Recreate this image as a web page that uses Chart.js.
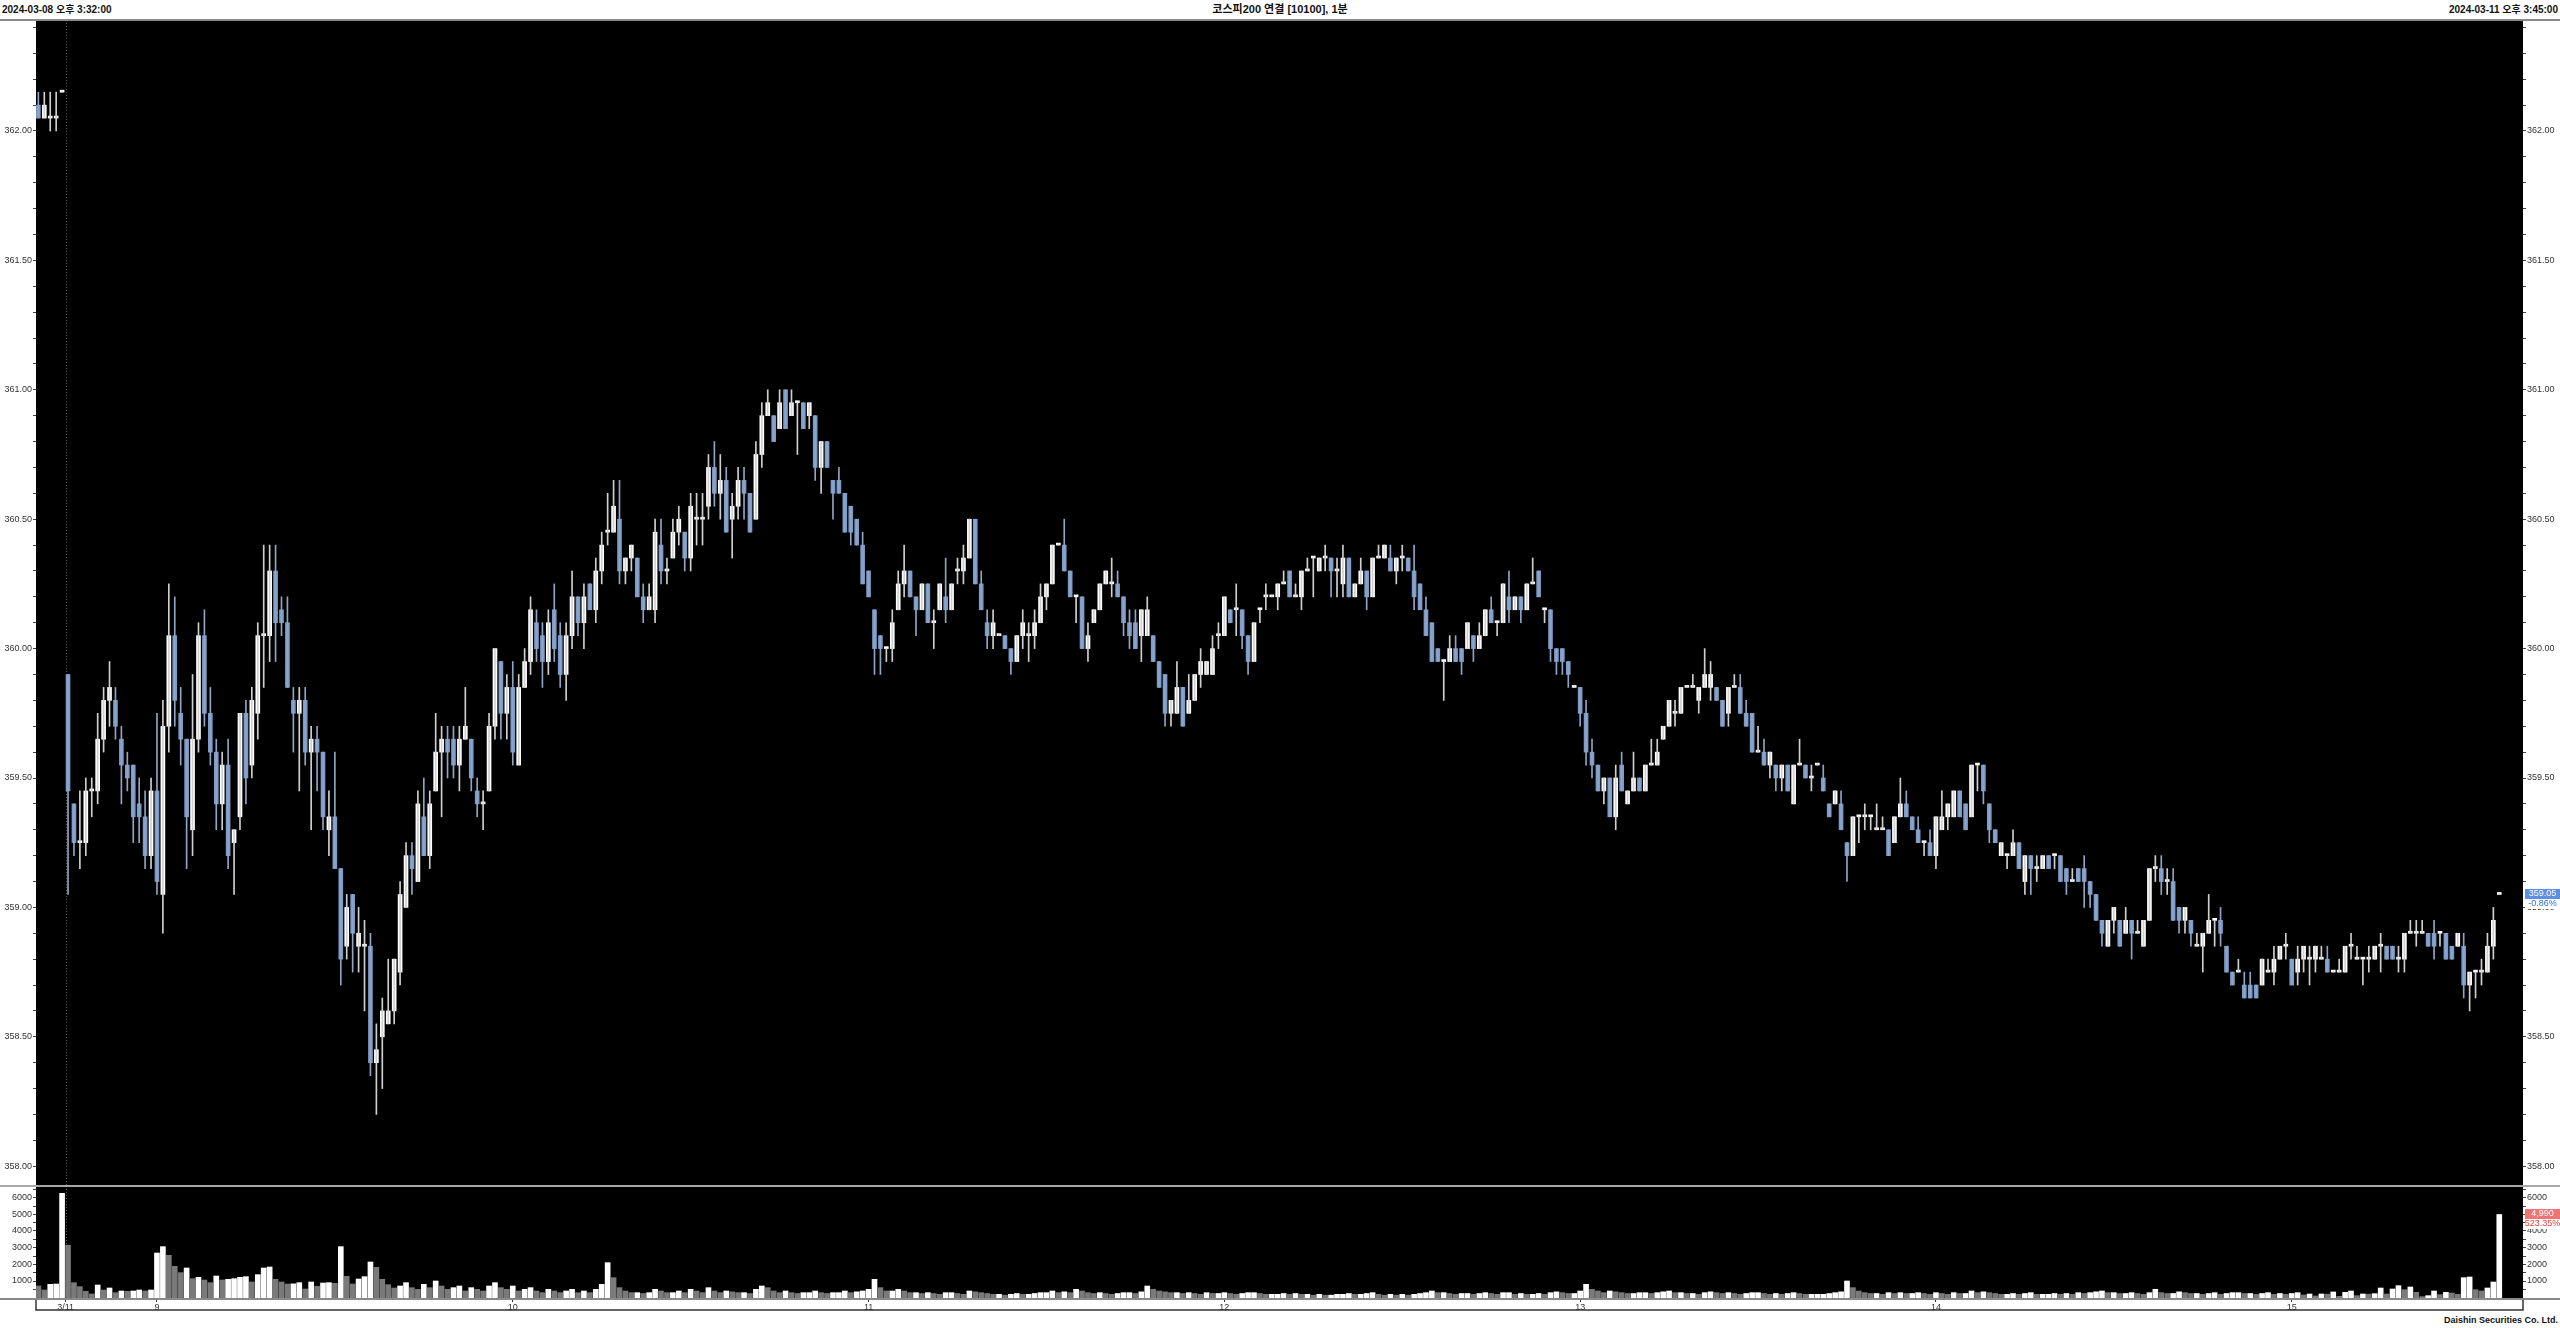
<!DOCTYPE html>
<html lang="ko">
<head>
<meta charset="utf-8">
<title>코스피200 연결 1분</title>
<script src="https://cdn.jsdelivr.net/npm/chart.js@4.4.1/dist/chart.umd.min.js"></script>
<style>
  html, body { margin: 0; padding: 0; background: #fff; }
  body { width: 2560px; height: 1328px; position: relative; overflow: hidden;
         font-family: "Liberation Sans", "Noto Sans CJK KR", sans-serif; }
  .hd { position: absolute; top: 4px; font-size: 10px; font-weight: bold; color: #111;
        white-space: nowrap; line-height: 12px; }
  #hdLeft { left: 2px; }
  #hdMid { left: 0; width: 2560px; text-align: center; font-size: 11px; top: 3px; }
  #hdRight { right: 2px; }
  .rule { position: absolute; left: 0; width: 2560px; height: 2px; background: #8a8a8a; z-index: 2; }
  #priceCv { position: absolute; left: 0; top: 20px; }
  #volCv { position: absolute; left: 0; top: 1186px; }
  #foot { position: absolute; right: 2px; top: 1315px; font-size: 9px; font-weight: bold;
          color: #111; white-space: nowrap; }
</style>
</head>
<body>
<div class="hd" id="hdLeft">2024-03-08 오후 3:32:00</div>
<div class="hd" id="hdMid">코스피200 연결 [10100], 1분</div>
<div class="hd" id="hdRight">2024-03-11 오후 3:45:00</div>
<div class="rule" style="top:19px"></div>
<canvas id="priceCv" width="2560" height="1166"></canvas>
<div class="rule" style="top:1185px;background:#a8a8a8"></div>
<canvas id="volCv" width="2560" height="125"></canvas>
<div class="rule" style="top:1298px;background:#8a8a8a"></div>
<div id="foot">Daishin Securities Co. Ltd.</div>

<script>
// 1-minute bars: 5 bars of 3/8 close, then 3/11 from 08:45 to the close
const opens = [
  362.10, 362.05, 362.05, 362.05, 362.15, 359.90, 359.40, 359.25, 359.25, 359.45,
  359.45, 359.65, 359.80, 359.80, 359.65, 359.55, 359.55, 359.40, 359.35, 359.20,
  359.45, 359.05, 359.70, 360.05, 359.75, 359.65, 359.30, 359.65, 360.05, 359.75,
  359.60, 359.40, 359.55, 359.25, 359.35, 359.75, 359.55, 359.75, 360.05, 360.05,
  360.30, 360.15, 360.10, 359.80, 359.75, 359.80, 359.60, 359.65, 359.60, 359.30,
  359.35, 359.15, 358.85, 359.05, 358.85, 358.85, 358.85, 358.40, 358.50, 358.55,
  358.60, 358.75, 359.00, 359.20, 359.10, 359.35, 359.20, 359.45, 359.60, 359.65,
  359.65, 359.55, 359.65, 359.65, 359.45, 359.40, 359.45, 359.70, 359.95, 359.75,
  359.85, 359.55, 359.85, 359.95, 360.10, 360.05, 359.95, 360.15, 360.05, 359.90,
  360.05, 360.20, 360.10, 360.25, 360.15, 360.30, 360.45, 360.45, 360.50, 360.30,
  360.35, 360.35, 360.20, 360.15, 360.15, 360.40, 360.30, 360.35, 360.45, 360.45,
  360.35, 360.50, 360.50, 360.55, 360.70, 360.60, 360.65, 360.50, 360.55, 360.65,
  360.60, 360.50, 360.75, 360.90, 360.90, 360.85, 361.00, 360.90, 360.95, 360.95,
  360.90, 360.90, 360.70, 360.80, 360.65, 360.65, 360.60, 360.55, 360.50, 360.40,
  360.30, 360.15, 360.05, 360.00, 360.00, 360.15, 360.25, 360.30, 360.20, 360.15,
  360.25, 360.10, 360.15, 360.20, 360.15, 360.30, 360.30, 360.35, 360.50, 360.25,
  360.10, 360.05, 360.05, 360.05, 360.00, 359.95, 360.05, 360.05, 360.05, 360.10,
  360.20, 360.25, 360.40, 360.40, 360.30, 360.20, 360.20, 360.00, 360.10, 360.15,
  360.25, 360.25, 360.25, 360.20, 360.10, 360.10, 360.05, 360.05, 360.05, 359.95,
  359.90, 359.75, 359.75, 359.85, 359.75, 359.80, 359.90, 359.90, 359.90, 360.05,
  360.05, 360.15, 360.15, 360.15, 360.05, 359.95, 360.15, 360.20, 360.20, 360.20,
  360.25, 360.30, 360.20, 360.20, 360.30, 360.35, 360.30, 360.35, 360.35, 360.30,
  360.25, 360.35, 360.20, 360.25, 360.30, 360.20, 360.35, 360.35, 360.35, 360.30,
  360.35, 360.35, 360.30, 360.25, 360.15, 360.10, 360.00, 359.95, 359.95, 360.00,
  360.00, 360.00, 360.05, 360.00, 360.05, 360.15, 360.10, 360.10, 360.20, 360.15,
  360.20, 360.15, 360.25, 360.30, 360.15, 360.15, 360.00, 360.00, 359.95, 359.85,
  359.85, 359.75, 359.60, 359.55, 359.45, 359.50, 359.35, 359.55, 359.40, 359.45,
  359.50, 359.45, 359.55, 359.55, 359.65, 359.70, 359.75, 359.75, 359.85, 359.85,
  359.80, 359.85, 359.85, 359.85, 359.80, 359.75, 359.85, 359.85, 359.75, 359.75,
  359.60, 359.60, 359.55, 359.55, 359.50, 359.55, 359.40, 359.55, 359.55, 359.50,
  359.55, 359.50, 359.40, 359.40, 359.40, 359.25, 359.20, 359.35, 359.35, 359.35,
  359.30, 359.30, 359.30, 359.25, 359.35, 359.40, 359.35, 359.30, 359.25, 359.25,
  359.20, 359.30, 359.35, 359.35, 359.45, 359.40, 359.35, 359.55, 359.55, 359.40,
  359.30, 359.20, 359.20, 359.20, 359.25, 359.10, 359.20, 359.15, 359.15, 359.20,
  359.20, 359.20, 359.15, 359.10, 359.15, 359.15, 359.10, 359.05, 358.95, 358.85,
  358.95, 358.95, 358.90, 358.95, 358.90, 358.85, 358.95, 359.15, 359.15, 359.10,
  359.10, 359.00, 358.95, 358.95, 358.85, 358.85, 358.90, 358.95, 358.95, 358.85,
  358.75, 358.75, 358.70, 358.70, 358.70, 358.70, 358.75, 358.75, 358.80, 358.85,
  358.80, 358.75, 358.80, 358.80, 358.80, 358.80, 358.80, 358.75, 358.75, 358.75,
  358.85, 358.80, 358.80, 358.80, 358.80, 358.85, 358.85, 358.85, 358.80, 358.80,
  358.90, 358.90, 358.90, 358.90, 358.90, 358.90, 358.90, 358.85, 358.85, 358.85,
  358.70, 358.75, 358.75, 358.75, 358.85, 359.05
];
const highs = [
  362.15, 362.15, 362.15, 362.15, 362.15, 359.90, 359.40, 359.45, 359.50, 359.50,
  359.75, 359.85, 359.95, 359.85, 359.70, 359.60, 359.55, 359.50, 359.45, 359.50,
  359.75, 359.80, 360.25, 360.20, 359.85, 359.65, 359.90, 360.10, 360.15, 359.85,
  359.65, 359.60, 359.65, 359.30, 359.75, 359.80, 359.85, 360.10, 360.40, 360.40,
  360.40, 360.20, 360.20, 359.85, 359.85, 359.85, 359.70, 359.70, 359.60, 359.45,
  359.60, 359.15, 359.05, 359.05, 359.00, 358.95, 358.90, 358.55, 358.65, 358.80,
  358.80, 359.10, 359.25, 359.25, 359.45, 359.50, 359.45, 359.75, 359.70, 359.70,
  359.70, 359.70, 359.85, 359.65, 359.50, 359.45, 359.75, 360.00, 359.95, 359.90,
  359.95, 359.90, 360.00, 360.20, 360.15, 360.10, 360.15, 360.25, 360.10, 360.10,
  360.30, 360.20, 360.25, 360.25, 360.35, 360.45, 360.60, 360.65, 360.65, 360.35,
  360.40, 360.35, 360.25, 360.25, 360.50, 360.50, 360.35, 360.50, 360.55, 360.45,
  360.60, 360.60, 360.60, 360.75, 360.80, 360.75, 360.70, 360.60, 360.70, 360.70,
  360.60, 360.80, 360.95, 361.00, 360.90, 361.00, 361.00, 361.00, 360.95, 360.95,
  360.95, 360.90, 360.80, 360.80, 360.65, 360.70, 360.60, 360.55, 360.50, 360.45,
  360.30, 360.15, 360.05, 360.00, 360.15, 360.30, 360.40, 360.30, 360.20, 360.25,
  360.25, 360.15, 360.25, 360.35, 360.25, 360.35, 360.40, 360.50, 360.50, 360.30,
  360.15, 360.15, 360.05, 360.05, 360.00, 360.05, 360.15, 360.10, 360.15, 360.25,
  360.25, 360.40, 360.40, 360.50, 360.30, 360.20, 360.20, 360.10, 360.15, 360.25,
  360.30, 360.35, 360.30, 360.20, 360.15, 360.15, 360.15, 360.20, 360.05, 359.95,
  359.90, 359.80, 359.95, 359.85, 359.90, 359.90, 360.00, 359.95, 360.05, 360.10,
  360.20, 360.15, 360.25, 360.15, 360.05, 360.10, 360.15, 360.25, 360.20, 360.25,
  360.30, 360.30, 360.25, 360.30, 360.35, 360.35, 360.35, 360.40, 360.35, 360.35,
  360.40, 360.35, 360.25, 360.35, 360.30, 360.35, 360.40, 360.40, 360.40, 360.35,
  360.40, 360.35, 360.40, 360.25, 360.20, 360.10, 360.00, 359.95, 360.05, 360.05,
  360.00, 360.10, 360.05, 360.10, 360.15, 360.20, 360.10, 360.25, 360.30, 360.20,
  360.20, 360.25, 360.35, 360.30, 360.15, 360.15, 360.00, 360.00, 359.95, 359.85,
  359.85, 359.80, 359.65, 359.55, 359.50, 359.50, 359.55, 359.60, 359.45, 359.60,
  359.50, 359.55, 359.65, 359.65, 359.70, 359.80, 359.80, 359.85, 359.85, 359.90,
  359.85, 360.00, 359.95, 359.85, 359.80, 359.85, 359.90, 359.90, 359.80, 359.75,
  359.70, 359.65, 359.60, 359.55, 359.55, 359.55, 359.55, 359.65, 359.55, 359.55,
  359.55, 359.55, 359.40, 359.45, 359.45, 359.25, 359.35, 359.35, 359.40, 359.35,
  359.40, 359.35, 359.30, 359.35, 359.50, 359.45, 359.35, 359.35, 359.25, 359.30,
  359.35, 359.45, 359.40, 359.45, 359.45, 359.40, 359.55, 359.55, 359.55, 359.40,
  359.30, 359.25, 359.20, 359.30, 359.25, 359.20, 359.20, 359.20, 359.20, 359.20,
  359.20, 359.20, 359.15, 359.15, 359.15, 359.20, 359.10, 359.05, 358.95, 358.95,
  359.00, 358.95, 359.00, 358.95, 358.95, 358.95, 359.15, 359.20, 359.20, 359.15,
  359.15, 359.00, 359.00, 358.95, 358.90, 358.90, 359.05, 358.95, 359.00, 358.85,
  358.75, 358.80, 358.75, 358.75, 358.70, 358.80, 358.80, 358.85, 358.85, 358.90,
  358.80, 358.85, 358.85, 358.85, 358.85, 358.85, 358.85, 358.75, 358.80, 358.85,
  358.90, 358.85, 358.80, 358.85, 358.85, 358.90, 358.85, 358.85, 358.85, 358.90,
  358.95, 358.95, 358.95, 358.90, 358.95, 358.90, 358.90, 358.85, 358.90, 358.90,
  358.75, 358.75, 358.80, 358.90, 359.00, 359.05
];
const lows = [
  362.05, 362.05, 362.00, 362.00, 362.15, 359.05, 359.20, 359.15, 359.20, 359.35,
  359.40, 359.60, 359.70, 359.65, 359.40, 359.45, 359.25, 359.25, 359.15, 359.15,
  359.05, 358.90, 359.60, 359.70, 359.55, 359.15, 359.20, 359.60, 359.70, 359.55,
  359.30, 359.30, 359.15, 359.05, 359.30, 359.40, 359.50, 359.65, 359.85, 359.95,
  359.95, 360.05, 359.85, 359.60, 359.45, 359.55, 359.30, 359.45, 359.30, 359.20,
  359.15, 358.70, 358.80, 358.75, 358.75, 358.60, 358.35, 358.20, 358.30, 358.55,
  358.55, 358.70, 359.00, 359.05, 359.10, 359.20, 359.15, 359.45, 359.35, 359.50,
  359.50, 359.45, 359.65, 359.45, 359.35, 359.30, 359.45, 359.65, 359.65, 359.65,
  359.55, 359.55, 359.85, 359.90, 359.95, 359.85, 359.90, 359.95, 359.85, 359.80,
  360.00, 360.05, 360.00, 360.15, 360.10, 360.25, 360.40, 360.45, 360.25, 360.25,
  360.30, 360.20, 360.10, 360.15, 360.10, 360.25, 360.25, 360.35, 360.40, 360.30,
  360.30, 360.40, 360.40, 360.50, 360.55, 360.50, 360.45, 360.35, 360.50, 360.50,
  360.45, 360.50, 360.70, 360.90, 360.80, 360.85, 360.85, 360.90, 360.75, 360.85,
  360.85, 360.65, 360.60, 360.70, 360.50, 360.60, 360.45, 360.40, 360.40, 360.25,
  360.20, 359.90, 359.90, 359.95, 359.95, 360.15, 360.20, 360.20, 360.05, 360.15,
  360.10, 360.00, 360.15, 360.10, 360.15, 360.25, 360.25, 360.35, 360.25, 360.15,
  360.00, 360.00, 360.05, 360.00, 359.90, 359.95, 360.00, 359.95, 360.00, 360.10,
  360.15, 360.25, 360.40, 360.30, 360.20, 360.10, 360.00, 359.95, 360.10, 360.15,
  360.25, 360.20, 360.20, 360.05, 360.00, 360.00, 359.95, 360.05, 359.95, 359.85,
  359.70, 359.70, 359.75, 359.70, 359.75, 359.80, 359.85, 359.90, 359.90, 360.00,
  360.05, 360.10, 360.05, 360.00, 359.90, 359.95, 360.10, 360.15, 360.20, 360.15,
  360.25, 360.20, 360.20, 360.15, 360.30, 360.20, 360.30, 360.30, 360.20, 360.20,
  360.20, 360.20, 360.20, 360.25, 360.15, 360.20, 360.35, 360.35, 360.30, 360.25,
  360.30, 360.30, 360.15, 360.15, 360.05, 359.95, 359.95, 359.80, 359.95, 359.95,
  359.90, 360.00, 359.95, 360.00, 360.05, 360.10, 360.05, 360.10, 360.10, 360.15,
  360.10, 360.15, 360.25, 360.20, 360.10, 359.95, 359.90, 359.90, 359.85, 359.85,
  359.70, 359.55, 359.50, 359.45, 359.40, 359.35, 359.30, 359.45, 359.40, 359.45,
  359.45, 359.45, 359.55, 359.55, 359.65, 359.70, 359.70, 359.75, 359.85, 359.85,
  359.75, 359.85, 359.80, 359.80, 359.70, 359.70, 359.85, 359.75, 359.70, 359.60,
  359.60, 359.55, 359.50, 359.45, 359.45, 359.45, 359.40, 359.55, 359.50, 359.45,
  359.55, 359.45, 359.35, 359.40, 359.30, 359.10, 359.20, 359.25, 359.30, 359.30,
  359.30, 359.30, 359.20, 359.25, 359.35, 359.35, 359.30, 359.25, 359.20, 359.20,
  359.15, 359.30, 359.30, 359.35, 359.35, 359.30, 359.35, 359.45, 359.40, 359.25,
  359.25, 359.20, 359.15, 359.20, 359.15, 359.05, 359.05, 359.10, 359.15, 359.15,
  359.15, 359.10, 359.05, 359.10, 359.10, 359.00, 359.00, 358.95, 358.85, 358.85,
  358.90, 358.85, 358.90, 358.80, 358.90, 358.85, 358.95, 359.10, 359.05, 359.05,
  358.95, 358.90, 358.90, 358.85, 358.85, 358.75, 358.90, 358.85, 358.85, 358.75,
  358.70, 358.75, 358.65, 358.65, 358.65, 358.70, 358.75, 358.70, 358.80, 358.80,
  358.70, 358.70, 358.75, 358.70, 358.75, 358.80, 358.75, 358.75, 358.75, 358.75,
  358.80, 358.80, 358.70, 358.75, 358.80, 358.75, 358.80, 358.80, 358.75, 358.75,
  358.90, 358.85, 358.90, 358.85, 358.80, 358.85, 358.80, 358.80, 358.85, 358.65,
  358.60, 358.65, 358.70, 358.75, 358.80, 359.05
];
const closes = [
  362.05, 362.10, 362.05, 362.05, 362.15, 359.45, 359.25, 359.25, 359.45, 359.45,
  359.65, 359.80, 359.85, 359.70, 359.55, 359.50, 359.35, 359.35, 359.20, 359.45,
  359.10, 359.70, 360.05, 359.80, 359.65, 359.35, 359.65, 360.05, 359.75, 359.60,
  359.40, 359.55, 359.20, 359.30, 359.75, 359.50, 359.80, 360.05, 360.05, 360.30,
  360.10, 360.10, 359.85, 359.75, 359.80, 359.60, 359.65, 359.60, 359.35, 359.35,
  359.15, 358.80, 359.00, 358.90, 358.90, 358.85, 358.40, 358.45, 358.60, 358.60,
  358.80, 359.05, 359.20, 359.15, 359.40, 359.20, 359.40, 359.60, 359.65, 359.60,
  359.55, 359.65, 359.70, 359.50, 359.40, 359.40, 359.70, 360.00, 359.75, 359.85,
  359.60, 359.85, 359.95, 360.15, 360.00, 359.95, 360.10, 360.00, 359.90, 360.05,
  360.20, 360.10, 360.20, 360.15, 360.30, 360.40, 360.45, 360.55, 360.30, 360.35,
  360.40, 360.20, 360.15, 360.20, 360.45, 360.30, 360.30, 360.45, 360.50, 360.35,
  360.55, 360.50, 360.50, 360.70, 360.60, 360.65, 360.45, 360.55, 360.65, 360.60,
  360.45, 360.75, 360.90, 360.95, 360.80, 360.95, 360.85, 360.95, 360.95, 360.85,
  360.95, 360.70, 360.80, 360.70, 360.60, 360.60, 360.45, 360.45, 360.40, 360.25,
  360.20, 360.00, 360.00, 360.00, 360.10, 360.25, 360.30, 360.20, 360.15, 360.25,
  360.10, 360.10, 360.25, 360.15, 360.25, 360.30, 360.35, 360.50, 360.25, 360.15,
  360.05, 360.10, 360.05, 360.00, 359.95, 360.05, 360.10, 360.05, 360.10, 360.20,
  360.25, 360.40, 360.40, 360.30, 360.20, 360.20, 360.00, 360.05, 360.15, 360.25,
  360.30, 360.25, 360.20, 360.10, 360.05, 360.00, 360.15, 360.15, 359.95, 359.85,
  359.75, 359.80, 359.85, 359.70, 359.80, 359.90, 359.95, 359.95, 360.00, 360.05,
  360.20, 360.10, 360.15, 360.05, 359.95, 360.10, 360.15, 360.20, 360.20, 360.25,
  360.25, 360.20, 360.20, 360.30, 360.30, 360.35, 360.35, 360.35, 360.30, 360.30,
  360.35, 360.20, 360.25, 360.30, 360.20, 360.35, 360.35, 360.40, 360.30, 360.35,
  360.35, 360.30, 360.20, 360.15, 360.05, 359.95, 359.95, 359.95, 360.00, 359.95,
  359.95, 360.10, 360.00, 360.05, 360.15, 360.10, 360.10, 360.25, 360.15, 360.20,
  360.15, 360.25, 360.25, 360.20, 360.15, 360.00, 359.95, 359.95, 359.90, 359.85,
  359.75, 359.60, 359.55, 359.45, 359.50, 359.35, 359.50, 359.45, 359.45, 359.50,
  359.45, 359.55, 359.55, 359.60, 359.70, 359.80, 359.75, 359.85, 359.85, 359.85,
  359.85, 359.90, 359.90, 359.80, 359.70, 359.85, 359.85, 359.75, 359.70, 359.60,
  359.60, 359.55, 359.60, 359.50, 359.55, 359.45, 359.55, 359.55, 359.50, 359.50,
  359.55, 359.45, 359.35, 359.45, 359.30, 359.20, 359.35, 359.35, 359.35, 359.35,
  359.30, 359.30, 359.20, 359.35, 359.40, 359.35, 359.30, 359.25, 359.25, 359.20,
  359.35, 359.35, 359.40, 359.45, 359.35, 359.30, 359.55, 359.55, 359.45, 359.30,
  359.25, 359.25, 359.20, 359.25, 359.15, 359.20, 359.15, 359.15, 359.20, 359.15,
  359.20, 359.10, 359.10, 359.10, 359.10, 359.10, 359.05, 358.95, 358.90, 358.95,
  359.00, 358.85, 358.95, 358.90, 358.90, 358.95, 359.15, 359.15, 359.10, 359.10,
  358.95, 358.95, 359.00, 358.90, 358.85, 358.90, 358.95, 358.95, 358.90, 358.75,
  358.70, 358.75, 358.65, 358.65, 358.65, 358.80, 358.75, 358.80, 358.85, 358.85,
  358.70, 358.80, 358.85, 358.80, 358.85, 358.80, 358.75, 358.75, 358.75, 358.85,
  358.85, 358.80, 358.80, 358.80, 358.85, 358.85, 358.80, 358.80, 358.80, 358.90,
  358.90, 358.90, 358.90, 358.85, 358.85, 358.90, 358.80, 358.80, 358.90, 358.70,
  358.75, 358.75, 358.75, 358.85, 358.95, 359.05
];
const volumes = [
  700, 460, 800, 820, 6260, 3150, 900, 660, 380, 220,
  760, 460, 580, 300, 400, 380, 400, 460, 400, 460,
  2680, 3060, 2540, 1880, 1500, 1780, 1140, 1220, 1060, 900,
  1300, 1060, 1100, 1140, 1220, 1260, 940, 1380, 1780, 1840,
  1100, 940, 820, 830, 900, 520, 940, 680, 880, 900,
  860, 3060, 1280, 820, 1120, 1260, 2140, 1820, 1100, 780,
  580, 700, 900, 600, 500, 800, 600, 1000, 700, 500,
  600, 700, 400, 600, 500, 400, 700, 900, 600, 500,
  700, 400, 500, 600, 400, 300, 500, 400, 300, 400,
  500, 300, 400, 300, 500, 800, 2100, 1200, 600, 400,
  300, 300, 250, 300, 500, 400, 300, 300, 400, 300,
  500, 400, 300, 600, 400, 300, 400, 350, 300, 300,
  250, 500, 700, 600, 400, 300, 400, 300, 250, 300,
  300, 400, 300, 250, 300, 300, 400, 300, 350, 400,
  500, 1100, 600, 400, 400, 500, 400, 300, 300, 250,
  300, 250, 200, 300, 300, 250, 200, 400, 350, 300,
  250, 200, 200, 150, 200, 250, 200, 200, 250, 300,
  300, 400, 300, 350, 300, 500, 400, 300, 250, 300,
  250, 200, 250, 300, 300, 250, 350, 700, 500, 400,
  350, 300, 300, 250, 300, 250, 200, 300, 250, 250,
  300, 250, 200, 250, 300, 300, 250, 200, 200, 200,
  250, 200, 250, 200, 200, 150, 200, 150, 150, 200,
  200, 250, 200, 200, 250, 300, 200, 150, 200, 150,
  200, 150, 200, 250, 300, 400, 300, 300, 250, 200,
  250, 250, 200, 250, 300, 250, 200, 300, 300, 200,
  250, 200, 200, 250, 200, 300, 350, 300, 250, 250,
  400, 800, 500, 400, 300, 400, 350, 300, 250, 250,
  300, 300, 250, 300, 350, 400, 300, 300, 250, 250,
  200, 300, 350, 300, 250, 300, 250, 200, 250, 300,
  300, 250, 200, 250, 200, 250, 300, 250, 200, 200,
  200, 200, 250, 300, 350, 1000, 600, 400, 300, 250,
  250, 200, 300, 250, 300, 250, 250, 300, 250, 200,
  300, 250, 200, 300, 250, 250, 400, 300, 350, 300,
  250, 200, 200, 250, 200, 250, 300, 200, 200, 200,
  250, 200, 250, 200, 300, 250, 300, 350, 400, 300,
  300, 250, 250, 300, 250, 200, 300, 500, 300, 250,
  250, 350, 300, 250, 250, 200, 250, 300, 200, 250,
  300, 300, 250, 250, 200, 250, 300, 200, 250, 200,
  250, 300, 160, 220, 100, 220, 210, 340, 80, 320,
  400, 120, 220, 210, 240, 580, 220, 520, 720, 480,
  640, 320, 60, 120, 400, 180, 320, 280, 200, 1200,
  1240, 480, 400, 580, 940, 4990
];

// axis labels and readouts
const timeTickAt = [4.6, 20, 80, 140, 200, 260, 320, 380];
const timeTickLabels = ['3/11', '9', '10', '11', '12', '13', '14', '15'];
const DAY_BREAK = 4.6;
const priceChangeText = '-0.86%';
const volChangeText = '523.35%';

const X_MIN = -0.4, X_MAX = 419.0;
const PRICE_MIN = 357.9235, PRICE_MAX = 362.4289;
const VOL_MIN = -80, VOL_MAX = 6700;

const UP = '#ffffff', DOWN = '#7b9bc9';
const UP_WICK = '#cfcfcf', DOWN_WICK = '#8ea5c6';
const VOL_UP = '#ffffff', VOL_DOWN = '#7a7a7a';
const AXIS_FONT = { size: 9, family: '"Liberation Sans", Arial, sans-serif' };

Chart.defaults.font.family = '"Liberation Sans", Arial, sans-serif';

const priceTicks = [];
for (let k = 3580; k <= 3624; k++) priceTicks.push(k / 10);
const volTicks = [];
for (let v = 500; v <= 6500; v += 500) volTicks.push(v);

const isUp = i => closes[i] >= opens[i];
const wickData = highs.map((h, i) => ({ x: i, y: [lows[i], h] }));
const bodyData = opens.map((o, i) => ({ x: i, y: [o, closes[i]] }));
const bodyColors = opens.map((o, i) => isUp(i) ? UP : DOWN);
const wickColors = opens.map((o, i) => isUp(i) ? UP_WICK : DOWN_WICK);
const volData = volumes.map((v, i) => ({ x: i, y: v }));
const volColors = volumes.map((v, i) => (i > 0 && v >= volumes[i - 1]) ? VOL_UP : VOL_DOWN);

// black plotting area
const blackArea = {
  id: 'blackArea',
  beforeDraw(chart) {
    const { ctx, chartArea: a } = chart;
    ctx.save();
    ctx.fillStyle = '#000';
    ctx.fillRect(a.left, a.top, a.right - a.left, a.bottom - a.top);
    ctx.restore();
  }
};

// dotted line between the two sessions
const dayBreak = {
  id: 'dayBreak',
  beforeDatasetsDraw(chart) {
    const { ctx, chartArea: a, scales } = chart;
    const x = Math.round(scales.x.getPixelForValue(DAY_BREAK)) + 0.5;
    ctx.save();
    ctx.strokeStyle = '#5a5a5a';
    ctx.lineWidth = 1;
    ctx.setLineDash([1, 2]);
    ctx.beginPath();
    ctx.moveTo(x, a.top);
    ctx.lineTo(x, a.bottom);
    ctx.stroke();
    ctx.restore();
  }
};

function readout(chart, value, text, sub, boxColor, subColor) {
  const { ctx, chartArea: a, scales } = chart;
  const y = Math.round(scales.y.getPixelForValue(value));
  const x0 = a.right + 2;
  const cx = (x0 + chart.width) / 2;
  ctx.save();
  ctx.fillStyle = boxColor;
  ctx.fillRect(x0, y - 5, chart.width - x0, 10);
  ctx.font = '9px "Liberation Sans", Arial, sans-serif';
  ctx.textAlign = 'center';
  ctx.textBaseline = 'middle';
  ctx.fillStyle = '#fff';
  ctx.fillText(text, cx, y);
  ctx.fillStyle = '#fff';
  ctx.fillRect(x0, y + 5, chart.width - x0, 10);
  ctx.fillStyle = subColor;
  ctx.fillText(sub, cx, y + 10);
  ctx.restore();
}

const priceReadout = {
  id: 'priceReadout',
  afterDraw(chart) {
    const last = closes[closes.length - 1];
    readout(chart, last, last.toFixed(2), priceChangeText, '#5d8fe3', '#2f6fd6');
  }
};

const volReadout = {
  id: 'volReadout',
  afterDraw(chart) {
    const last = volumes[volumes.length - 1];
    readout(chart, last, last.toLocaleString('en-US'), volChangeText, '#f07474', '#e03c3c');
  }
};

// frame round the time labels
const timeFrame = {
  id: 'timeFrame',
  afterDraw(chart) {
    const { ctx, chartArea: a } = chart;
    ctx.save();
    ctx.strokeStyle = '#333';
    ctx.lineWidth = 1.5;
    ctx.beginPath();
    ctx.moveTo(a.left, a.bottom);
    ctx.lineTo(a.left, chart.height - 1);
    ctx.lineTo(a.right, chart.height - 1);
    ctx.lineTo(a.right, a.bottom);
    ctx.stroke();
    ctx.restore();
  }
};

// no room kept for half labels at the ends of an axis
function noPad(s) {
  s.paddingTop = 0; s.paddingBottom = 0; s.paddingLeft = 0; s.paddingRight = 0;
}

function valueAxis(pos, min, max, tickList, label) {
  return {
    position: pos, min, max,
    afterFit: s => { s.width = pos === 'left' ? 36 : 37; noPad(s); },
    afterBuildTicks: s => { s.ticks = tickList.map(v => ({ value: v })); },
    grid: { drawOnChartArea: false, drawTicks: true, tickLength: 3, tickColor: '#444' },
    border: { display: false },
    ticks: { padding: 1, color: '#333', font: AXIS_FONT, autoSkip: false, callback: label }
  };
}

const priceLabel = v => (Math.round(v * 100) % 50 === 0) ? v.toFixed(2) : '';
const volLabel = v => (v % 1000 === 0) ? String(v) : '';

new Chart(document.getElementById('priceCv'), {
  type: 'bar',
  data: {
    datasets: [
      { data: wickData, backgroundColor: wickColors, barThickness: 1, minBarLength: 1, grouped: false, yAxisID: 'y' },
      { data: bodyData, backgroundColor: bodyColors, barThickness: 4, minBarLength: 2, grouped: false, yAxisID: 'y' }
    ]
  },
  options: {
    responsive: false, animation: false, events: [],
    layout: { padding: 0 },
    plugins: { legend: { display: false }, tooltip: { enabled: false } },
    scales: {
      x: { type: 'linear', min: X_MIN, max: X_MAX, offset: false, grid: { offset: false }, display: false },
      y: valueAxis('left', PRICE_MIN, PRICE_MAX, priceTicks, priceLabel),
      y2: valueAxis('right', PRICE_MIN, PRICE_MAX, priceTicks, priceLabel)
    }
  },
  plugins: [blackArea, dayBreak, priceReadout]
});

new Chart(document.getElementById('volCv'), {
  type: 'bar',
  data: {
    datasets: [
      { data: volData, backgroundColor: volColors, barThickness: 5, yAxisID: 'y' }
    ]
  },
  options: {
    responsive: false, animation: false, events: [],
    layout: { padding: 0 },
    plugins: { legend: { display: false }, tooltip: { enabled: false } },
    scales: {
      x: {
        type: 'linear', min: X_MIN, max: X_MAX, position: 'bottom', offset: false,
        afterFit: s => { s.height = 12; noPad(s); },
        afterBuildTicks: s => { s.ticks = timeTickAt.map(v => ({ value: v })); },
        grid: { offset: false, drawOnChartArea: false, drawTicks: true, tickLength: 3, tickColor: '#333' },
        border: { display: false },
        ticks: { padding: 0, color: '#333', font: AXIS_FONT, autoSkip: false, maxRotation: 0,
                 callback: (v, i) => timeTickLabels[i] }
      },
      y: valueAxis('left', VOL_MIN, VOL_MAX, volTicks, volLabel),
      y2: valueAxis('right', VOL_MIN, VOL_MAX, volTicks, volLabel)
    }
  },
  plugins: [blackArea, dayBreak, volReadout, timeFrame]
});
</script>
</body>
</html>
